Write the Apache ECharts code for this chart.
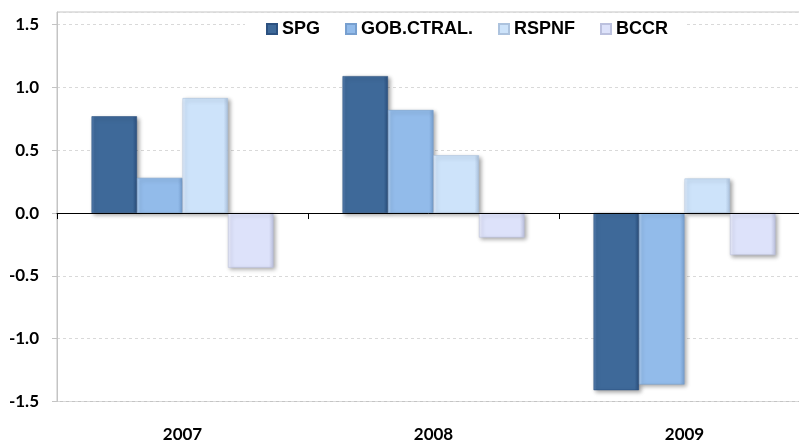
<!DOCTYPE html>
<html>
<head>
<meta charset="utf-8">
<script src="https://cdn.jsdelivr.net/npm/echarts@6/dist/echarts.min.js"></script>
<style>html,body{margin:0;padding:0;background:#fff;}#c{width:799px;height:443px;}</style>
</head>
<body>
<div id="c"></div>
<script>
var categories = ['2007', '2008', '2009'];
var seriesNames = ['SPG', 'GOB.CTRAL.', 'RSPNF', 'BCCR'];
var spg = [0.77, 1.09, -1.41];
var gob = [0.28, 0.82, -1.365];
var rspnf = [0.915, 0.46, 0.275];
var bccr = [-0.435, -0.195, -0.335];
var yTicks = { min: -1.5, max: 1.6, interval: 0.5 };

var palette = [
  ['#5b84b4', '#3e6999', '#2c5180'],
  ['#b2d0f2', '#92bbea', '#779fcf'],
  ['#e6f1fd', '#cde3fa', '#adc3de'],
  ['#eef0fd', '#dde2fa', '#bcc1de']
];
function grad(p) {
  return new echarts.graphic.LinearGradient(0, 0, 1, 0, [
    { offset: 0, color: p[0] },
    { offset: 0.07, color: p[1] },
    { offset: 0.9, color: p[1] },
    { offset: 1, color: p[2] }
  ]);
}
var values = [spg, gob, rspnf, bccr];
var series = seriesNames.map(function (n, i) {
  return {
    name: n,
    type: 'bar',
    xAxisIndex: 0,
    data: values[i],
    barGap: '0%',
    barCategoryGap: '27.5%',
    itemStyle: {
      color: grad(palette[i]),
      borderColor: palette[i][2],
      borderWidth: 0.6,
      shadowColor: 'rgba(0,0,0,0.35)',
      shadowBlur: 4,
      shadowOffsetX: 2,
      shadowOffsetY: 2
    }
  };
});

var chart = echarts.init(document.getElementById('c'), null, { renderer: 'canvas' });
chart.setOption({
  animation: false,
  backgroundColor: '#ffffff',
  grid: {
    left: 57, width: 753, top: 12, height: 389.5,
    outerBoundsMode: 'none', containLabel: false,
    show: true, borderColor: '#c4c4c4', borderWidth: 1, backgroundColor: 'transparent'
  },
  legend: {
    left: 245, top: 14,
    padding: [6, 18, 6, 21],
    backgroundColor: '#ffffff',
    itemWidth: 10, itemHeight: 10, itemGap: 25,
    icon: 'rect',
    textStyle: { fontFamily: 'Liberation Sans, Arial, sans-serif', fontWeight: 'bold', fontSize: 18, color: '#000' },
    data: seriesNames
  },
  xAxis: [
    {
      type: 'category', data: categories, position: 'bottom', z: 5,
      axisLine: { onZero: true, lineStyle: { color: '#000', width: 1 } },
      axisTick: { show: true, length: 6, lineStyle: { color: '#000' } },
      axisLabel: { show: false },
      splitLine: { show: false }
    },
    {
      type: 'category', data: categories, position: 'bottom',
      axisLine: { show: false, onZero: false },
      axisTick: { show: false },
      axisLabel: { show: true, margin: 25, fontFamily: 'Lato, sans-serif', fontWeight: 'bold', fontSize: 17, color: '#000' },
      splitLine: { show: false }
    }
  ],
  yAxis: {
    type: 'value', min: yTicks.min, max: yTicks.max, interval: yTicks.interval,
    axisLine: { show: true, lineStyle: { color: '#c4c4c4' } },
    axisTick: { show: true, length: 5, lineStyle: { color: '#c4c4c4' } },
    axisLabel: {
      showMaxLabel: false, margin: 18,
      fontFamily: 'Lato, sans-serif', fontWeight: 'bold', fontSize: 17, color: '#000',
      formatter: function (v) { return v.toFixed(1); }
    },
    splitLine: { show: true, lineStyle: { color: '#d9d9d9', type: [3, 3] } }
  },
  series: series
});
</script>
</body>
</html>
